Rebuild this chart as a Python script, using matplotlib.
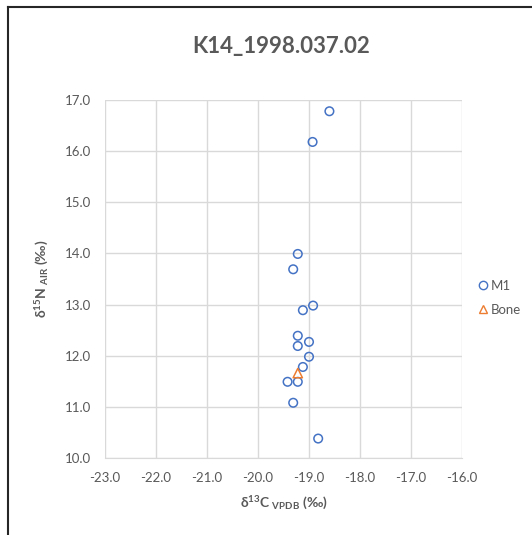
import matplotlib
matplotlib.use("Agg")
import matplotlib.pyplot as plt
from matplotlib.lines import Line2D

plt.rcParams['font.family'] = ['Lato', 'DejaVu Sans']
plt.rcParams['mathtext.default'] = 'regular'

title = "K14_1998.037.02"
m1_c = [-18.6, -18.93, -19.22, -19.31, -19.12, -18.92, -19.22, -19.22, -19.0, -19.0, -19.12, -19.42, -19.22, -19.31, -18.82]
m1_n = [16.78, 16.18, 13.99, 13.69, 12.89, 12.98, 12.39, 12.19, 12.27, 11.98, 11.78, 11.49, 11.49, 11.08, 10.38]
bone_c = [-19.22]
bone_n = [11.66]
xticks = [-23.0, -22.0, -21.0, -20.0, -19.0, -18.0, -17.0, -16.0]
yticks = [10.0, 11.0, 12.0, 13.0, 14.0, 15.0, 16.0, 17.0]

fig = plt.figure(figsize=(5.32, 5.35), dpi=100)
ax = fig.add_axes([105/532, 1-458/535, (462-105)/532, (458-100)/535])

grid_c = '#d9d9d9'
txt_c = '#595959'
ax.scatter(m1_c, m1_n, s=38, facecolors='none', edgecolors='#4472C4', linewidths=1.1, zorder=3)
ax.scatter(bone_c, bone_n, s=45, marker='^', facecolors='none', edgecolors='#ED7D31', linewidths=1.1, zorder=3)

ax.set_xlim(-23, -16)
ax.set_ylim(10, 17)
ax.set_xticks(xticks)
ax.set_yticks(yticks)
ax.set_xticklabels([f"{v:.1f}" for v in xticks])
ax.set_yticklabels([f"{v:.1f}" for v in yticks])
ax.grid(True, color=grid_c, linewidth=1)
ax.set_axisbelow(True)
for s in ['top', 'right', 'left']:
    ax.spines[s].set_visible(False)
ax.spines['bottom'].set_color(grid_c)
ax.tick_params(length=0, labelsize=9.5, labelcolor=txt_c, pad=10)

ax.set_xlabel(r'δ$^{13}$C$_{\ VPDB}$ (‰)', fontsize=10, color=txt_c, fontweight='bold', labelpad=8)
ax.set_ylabel(r'δ$^{15}$N$_{\ AIR}$ (‰)', fontsize=10, color=txt_c, fontweight='bold', labelpad=10)

fig.text(281/532, 1-47/535, title, ha='center', va='center', fontsize=16, fontweight='bold', color=txt_c)

handles = [Line2D([], [], marker='o', linestyle='none', markerfacecolor='none', markeredgecolor='#4472C4', markersize=6, label='M1'),
           Line2D([], [], marker='^', linestyle='none', markerfacecolor='none', markeredgecolor='#ED7D31', markersize=6, label='Bone')]
leg = fig.legend(handles=handles, loc='center left', bbox_to_anchor=(470/532, 1-298/535), frameon=False,
                 fontsize=9.5, handletextpad=0.0, handlelength=1.2, labelspacing=0.9, borderaxespad=0)
for t in leg.get_texts():
    t.set_color(txt_c)

fig.add_artist(Line2D([8/532, 8/532], [0, 1-7/535], color='#262626', linewidth=1.5, transform=fig.transFigure))
fig.add_artist(Line2D([8/532, 1], [1-7/535, 1-7/535], color='#262626', linewidth=1.5, transform=fig.transFigure))

fig.savefig('out.png', dpi=100)
